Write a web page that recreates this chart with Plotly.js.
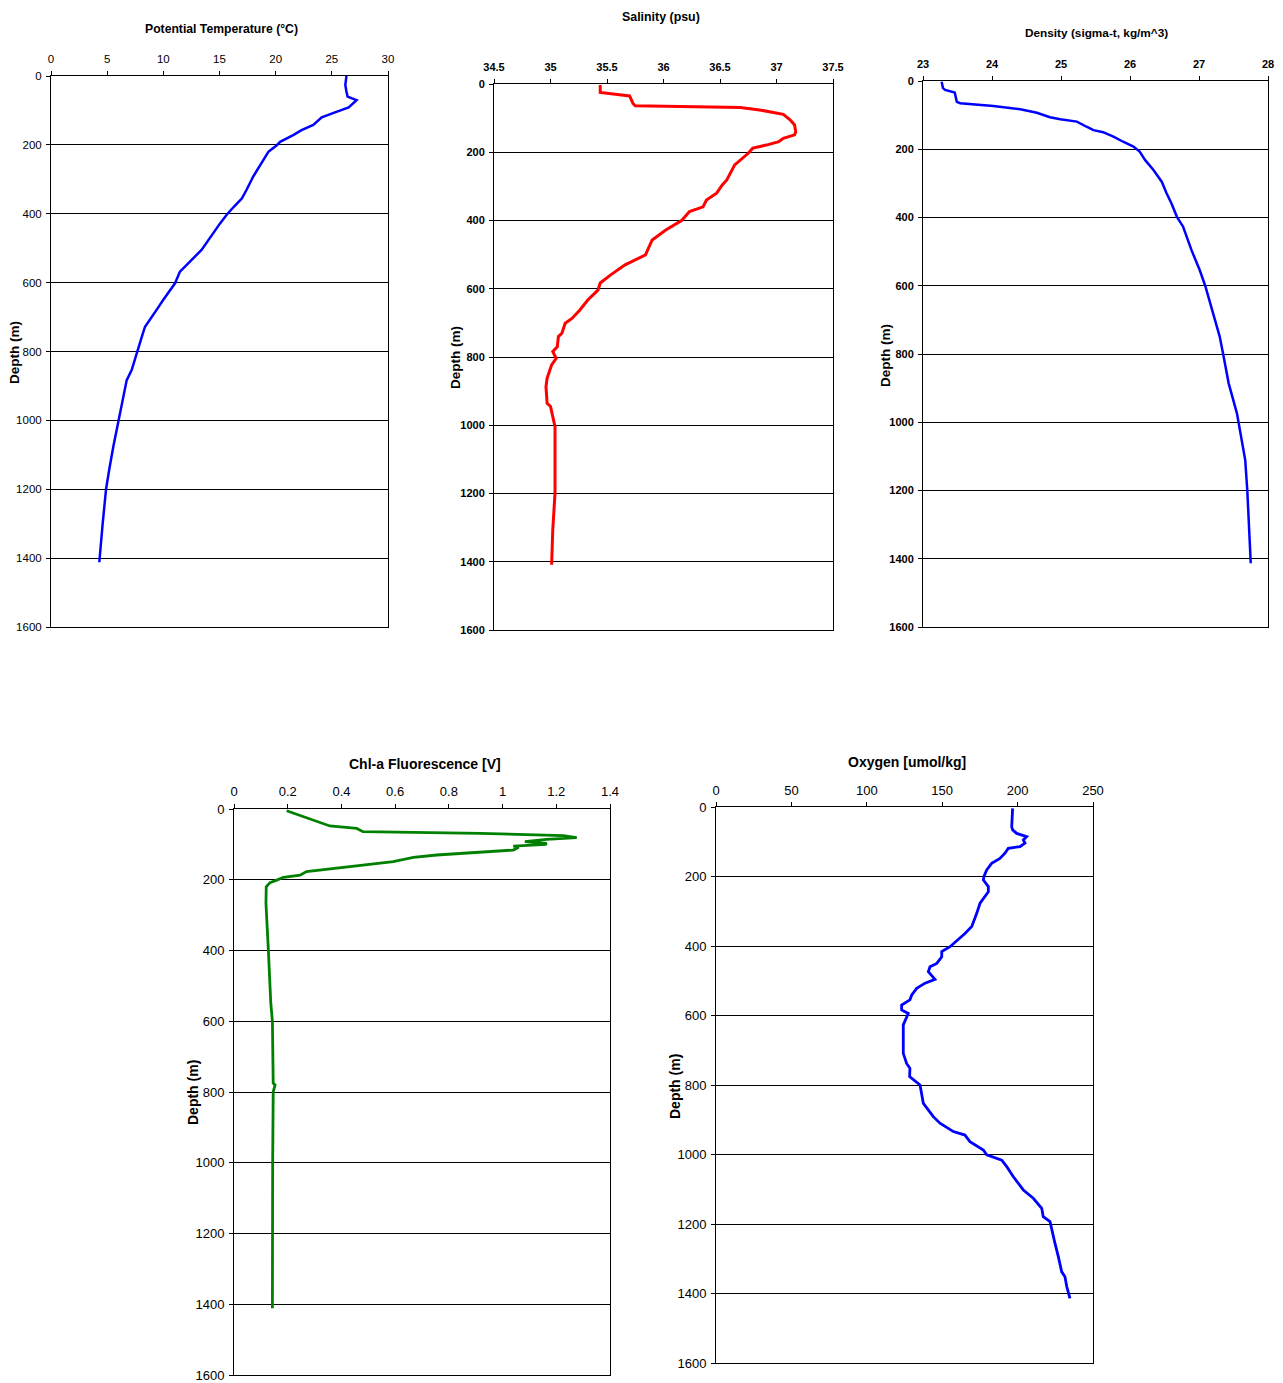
<!DOCTYPE html>
<html>
<head>
<meta charset="utf-8">
<script src="https://cdn.plot.ly/plotly-3.0.1.min.js"></script>
<style>html,body{margin:0;padding:0;background:#fff;}#chart{width:1283px;height:1383px;}</style>
</head>
<body>
<div id="chart"></div>
<script>
// ---------------- DATA ----------------
const depthTemp = [0, 26, 45, 60, 70, 91, 108, 120, 142, 157, 171, 191, 201, 220, 244, 292, 331, 355, 379, 403, 428, 471, 505, 539, 568, 602, 621, 650, 679, 705, 728, 750, 776, 810, 854, 883, 931, 1000, 1076, 1140, 1200, 1300, 1400, 1412];
const temperature = [26.3, 26.2, 26.3, 26.4, 27.2, 26.5, 25.1, 24.1, 23.35, 22.3, 21.6, 20.4, 20.1, 19.35, 18.9, 18.0, 17.4, 17.0, 16.3, 15.64, 15.05, 14.15, 13.4, 12.37, 11.48, 11.04, 10.6, 10.0, 9.4, 8.85, 8.37, 8.15, 7.92, 7.63, 7.18, 6.74, 6.44, 6.0, 5.55, 5.2, 4.9, 4.6, 4.36, 4.3];

const depthSal = [3, 25, 35, 57, 64, 69, 76, 89, 105, 120, 140, 149, 159, 169, 179, 188, 203, 223, 237, 281, 296, 320, 340, 360, 374, 389, 400, 428, 457, 501, 530, 560, 583, 604, 633, 662, 687, 701, 731, 740, 770, 784, 804, 823, 848, 862, 887, 936, 945, 975, 1004, 1199, 1307, 1409];
const salinity = [35.44, 35.44, 35.70, 35.73, 35.75, 36.68, 36.85, 37.06, 37.12, 37.16, 37.17, 37.16, 37.06, 37.02, 36.91, 36.79, 36.75, 36.68, 36.63, 36.56, 36.52, 36.47, 36.38, 36.35, 36.23, 36.19, 36.16, 36.02, 35.90, 35.84, 35.66, 35.53, 35.44, 35.42, 35.33, 35.26, 35.19, 35.13, 35.10, 35.07, 35.06, 35.02, 35.05, 35.01, 34.98, 34.97, 34.96, 34.97, 35.00, 35.02, 35.04, 35.04, 35.02, 35.01];

const depthDens = [2, 21, 26, 34, 61, 65, 73, 83, 93, 106, 112, 119, 134, 144, 150, 163, 178, 192, 207, 232, 261, 295, 329, 358, 398, 427, 495, 554, 600, 681, 749, 800, 886, 974, 1023, 1111, 1200, 1325, 1413];
const density = [23.27, 23.29, 23.32, 23.46, 23.49, 23.54, 24.02, 24.41, 24.65, 24.84, 24.99, 25.23, 25.37, 25.47, 25.61, 25.76, 25.90, 26.05, 26.14, 26.22, 26.34, 26.46, 26.53, 26.60, 26.68, 26.77, 26.89, 27.01, 27.09, 27.21, 27.30, 27.35, 27.43, 27.55, 27.59, 27.67, 27.70, 27.73, 27.75];

const depthChl = [5, 17, 31, 48, 55, 64, 69, 75, 81, 86, 92, 97, 100, 105, 108, 116, 130, 137, 149, 163, 168, 177, 187, 193, 201, 208, 220, 267, 400, 549, 600, 775, 780, 800, 1000, 1200, 1411];
const chlFluor = [0.196, 0.24, 0.295, 0.357, 0.457, 0.48, 0.916, 1.226, 1.276, 1.164, 1.083, 1.164, 1.16, 1.04, 1.06, 1.04, 0.755, 0.668, 0.593, 0.42, 0.357, 0.27, 0.246, 0.184, 0.159, 0.134, 0.12, 0.119, 0.128, 0.137, 0.143, 0.146, 0.153, 0.146, 0.144, 0.143, 0.143];

const depthOxy = [4, 57, 66, 76, 85, 95, 104, 114, 119, 133, 148, 162, 181, 200, 210, 229, 244, 277, 306, 344, 364, 383, 392, 402, 416, 431, 450, 460, 474, 496, 507, 522, 541, 555, 570, 584, 594, 627, 709, 738, 752, 776, 800, 829, 853, 891, 910, 934, 944, 963, 987, 1001, 1016, 1035, 1064, 1102, 1126, 1155, 1179, 1193, 1217, 1256, 1294, 1337, 1352, 1380, 1414];
const oxygen = [196.7, 196.1, 196.7, 199.4, 206, 203.8, 204.9, 201.6, 193.8, 191.6, 188.3, 182.8, 179.5, 177.7, 177.3, 180.6, 180.6, 175.1, 172.9, 169.6, 165.1, 160, 158, 155.2, 149.7, 149.7, 146.4, 141.9, 140.8, 145.2, 138.6, 133.1, 129.8, 128.6, 123.1, 123.1, 127.5, 124.2, 124.2, 126.4, 128.6, 128.4, 135.3, 136.4, 137.5, 144.1, 148.5, 157.4, 165.1, 168.4, 177.3, 179.5, 189.5, 192.8, 197.2, 203.8, 210.4, 216, 217, 221.5, 222.6, 224.8, 227, 229.2, 231.4, 232.6, 234.7];

const depthTicks = [0, 200, 400, 600, 800, 1000, 1200, 1400, 1600];
const tempTicks = [0, 5, 10, 15, 20, 25, 30];
const salTicks = [34.5, 35, 35.5, 36, 36.5, 37, 37.5];
const salTickText = ['34.5', '35', '35.5', '36', '36.5', '37', '37.5'];
const densTicks = [23, 24, 25, 26, 27, 28];
const chlTicks = [0, 0.2, 0.4, 0.6, 0.8, 1, 1.2, 1.4];
const chlTickText = ['0', '0.2', '0.4', '0.6', '0.8', '1', '1.2', '1.4'];
const oxyTicks = [0, 50, 100, 150, 200, 250];

const titles = ['Potential Temperature (°C)', 'Salinity (psu)', 'Density (sigma-t, kg/m^3)', 'Chl-a Fluorescence [V]', 'Oxygen [umol/kg]'];
const depthTitle = 'Depth (m)';

// ---------------- LAYOUT ----------------
const W = 1283, H = 1383;
const FONT = '"Liberation Sans", Arial, sans-serif';

// pixel boxes [left, right, top, bottom]
const boxes = [
  [51, 388, 76, 627],
  [494, 833, 84, 630],
  [923, 1268, 81, 627],
  [234, 610, 809, 1375],
  [716, 1093, 807, 1363]
];
const titlePos = [[221, 29], [661, 17], [1096, 33], [425, 764], [907, 762]];
const depthPos = [[14, 353], [455, 358], [885, 355], [193, 1093], [675, 1087]];
const tickStyle = [
  {family: FONT, size: 11.5, weight: 'normal'},
  {family: FONT, size: 11, weight: 'bold'},
  {family: FONT, size: 11, weight: 'bold'},
  {family: FONT, size: 13, weight: 'normal'},
  {family: FONT, size: 13, weight: 'normal'}
];
const titleStyle = [
  {family: FONT, size: 12.2, weight: 'bold'},
  {family: FONT, size: 12.4, weight: 'bold'},
  {family: FONT, size: 11.8, weight: 'bold'},
  {family: FONT, size: 14, weight: 'bold'},
  {family: FONT, size: 14, weight: 'bold'}
];
const depthSize = [13.5, 13.5, 13.5, 14, 14];
const xStandoff = [3, 4, 4, 3, 2];
const xRanges = [[0, 30], [34.5, 37.5], [23, 28], [0, 1.4], [0, 250]];
const xTickVals = [tempTicks, salTicks, densTicks, chlTicks, oxyTicks];
const xTickText = [tempTicks.map(String), salTickText, densTicks.map(String), chlTickText, oxyTicks.map(String)];

const series = [
  {x: temperature, y: depthTemp, color: '#0000FF', width: 2.5},
  {x: salinity, y: depthSal, color: '#FF0000', width: 3},
  {x: density, y: depthDens, color: '#0000FF', width: 2.5},
  {x: chlFluor, y: depthChl, color: '#008000', width: 2.8},
  {x: oxygen, y: depthOxy, color: '#0000FF', width: 2.8}
];

const layout = {
  width: W, height: H,
  margin: {l: 0, r: 0, t: 0, b: 0},
  paper_bgcolor: '#fff', plot_bgcolor: '#fff',
  showlegend: false,
  annotations: []
};
const traces = [];

boxes.forEach((b, i) => {
  const n = i + 1;
  const xk = n === 1 ? 'xaxis' : 'xaxis' + n;
  const yk = n === 1 ? 'yaxis' : 'yaxis' + n;
  const xr = n === 1 ? 'x' : 'x' + n;
  const yr = n === 1 ? 'y' : 'y' + n;
  const tf = Object.assign({color: '#000'}, tickStyle[i]);
  layout[xk] = {
    domain: [b[0] / W, b[1] / W], anchor: yr, side: 'top',
    range: xRanges[i], tickmode: 'array', tickvals: xTickVals[i], ticktext: xTickText[i],
    showline: true, linecolor: '#000', linewidth: 1, mirror: true,
    ticks: 'outside', ticklen: 4, tickcolor: '#000', tickwidth: 1,
    showgrid: false, zeroline: false, tickfont: tf, ticklabelstandoff: xStandoff[i], fixedrange: true
  };
  layout[yk] = {
    domain: [1 - b[3] / H, 1 - b[2] / H], anchor: xr,
    range: [1600, 0], tickmode: 'array', tickvals: depthTicks,
    showline: true, linecolor: '#000', linewidth: 1, mirror: true,
    ticks: 'outside', ticklen: 4, tickcolor: '#000', tickwidth: 1,
    showgrid: true, gridcolor: '#000', gridwidth: 1, zeroline: false,
    tickfont: tf, ticklabelstandoff: 2, fixedrange: true
  };
  traces.push({
    type: 'scatter', mode: 'lines', x: series[i].x, y: series[i].y,
    xaxis: xr, yaxis: yr,
    line: {color: series[i].color, width: series[i].width},
    hoverinfo: 'skip'
  });
  layout.annotations.push({
    xref: 'paper', yref: 'paper', x: titlePos[i][0] / W, y: 1 - titlePos[i][1] / H,
    xanchor: 'center', yanchor: 'middle', showarrow: false,
    text: titles[i], font: Object.assign({color: '#000'}, titleStyle[i])
  });
  layout.annotations.push({
    xref: 'paper', yref: 'paper', x: depthPos[i][0] / W, y: 1 - depthPos[i][1] / H,
    xanchor: 'center', yanchor: 'middle', showarrow: false, textangle: -90,
    text: depthTitle, font: {family: FONT, size: depthSize[i], weight: 'bold', color: '#000'}
  });
});

Plotly.newPlot('chart', traces, layout, {staticPlot: true, displayModeBar: false});
</script>
</body>
</html>
